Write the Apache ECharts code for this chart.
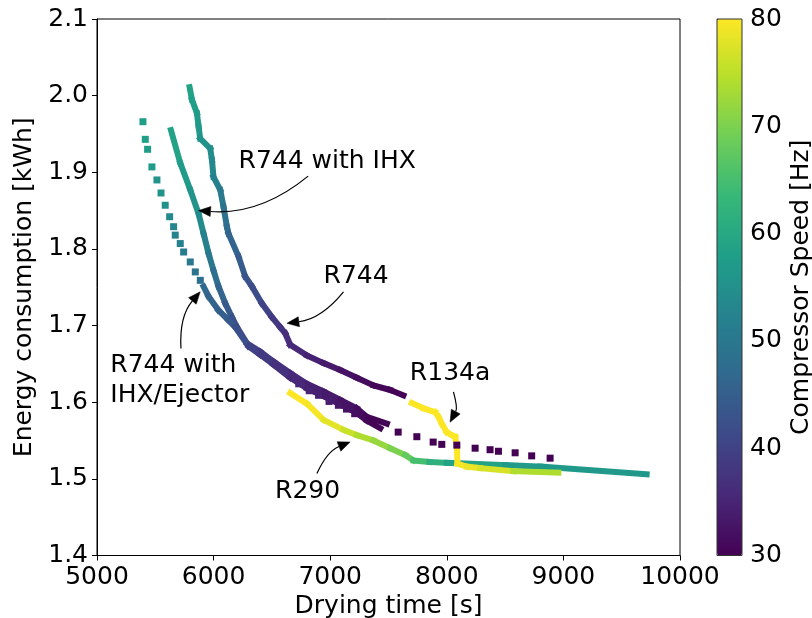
<!DOCTYPE html>
<html><head><meta charset="utf-8">
<script src="https://cdn.jsdelivr.net/npm/echarts@6/dist/echarts.min.js"></script>
<style>html,body{margin:0;padding:0;background:#fff}#c{width:812px;height:618px}</style>
</head><body><div id="c"></div>
<script>
// ---------------- data ----------------
const xTicks = [5000, 6000, 7000, 8000, 9000, 10000];
const yTicks = [1.4, 1.5, 1.6, 1.7, 1.8, 1.9, 2.0, 2.1];
const hzTicks = [30, 40, 50, 60, 70, 80];

// R744 (solid)
const r744X  = [5794,5814,5857,5871,5885,5971,5986,5999,6057,6085,6114,6128,6214,6271,6329,6414,6500,6571,6614,6657,6800,6943,7086,7228,7371,7514,7628];
const r744Y  = [2.011,1.995,1.977,1.960,1.944,1.931,1.916,1.894,1.877,1.855,1.829,1.820,1.790,1.764,1.751,1.729,1.711,1.698,1.690,1.675,1.661,1.651,1.642,1.632,1.622,1.616,1.609];
const r744Hz = [59,58.5,57.5,57,56,55,54,53,51,49.5,48,47,45,43.5,42.5,41,39,38,37,36,35,34,33,32,31,30.5,30];

// R744 with IHX (solid)
const ihxX  = [5634,5714,5800,5871,5914,5957,5999,6042,6100,6157,6200,6286,6400,6514,6657,6800,6943,7086,7228,7314,7486];
const ihxY  = [1.955,1.912,1.877,1.846,1.820,1.794,1.772,1.751,1.729,1.711,1.698,1.677,1.666,1.653,1.638,1.624,1.614,1.603,1.592,1.581,1.572];
const ihxHz = [59.5,58,56.5,55,53,51,49,47,45,43,42,40,39,38,36,35,34,33,32,31,30];

// R744 with IHX/Ejector: sparse upper points, dense middle part, sparse tail
const ejTopX  = [5394,5414,5434,5471,5514,5549,5585,5623,5657,5671,5714,5743,5800,5843,5886];
const ejTopY  = [1.966,1.943,1.930,1.907,1.890,1.873,1.857,1.842,1.829,1.818,1.807,1.796,1.783,1.770,1.759];
const ejTopHz = [58,58,57.5,57,56,55.5,55,54,53,52.5,52,51,50,49,48];
const ejMidX  = [5914,5957,6042,6128,6185,6300,6400,6514,6657,6800,6943,7086,7228,7314,7430];
const ejMidY  = [1.751,1.738,1.720,1.707,1.698,1.673,1.662,1.649,1.632,1.618,1.608,1.597,1.586,1.576,1.566];
const ejMidHz = [47,46.5,45.5,44.5,43.5,41,39,38,36,35,34,33,32,31,30];
const ejTailX  = [6730,6820,6900,6990,7070,7140,7210,7583,7743,7883,7957,8086,8243,8371,8443,8586,8728,8886];
const ejTailY  = [1.624,1.615,1.609,1.601,1.596,1.591,1.585,1.561,1.555,1.548,1.545,1.544,1.540,1.538,1.536,1.534,1.530,1.527];
const ejTailHz = [35.5,35,34.5,34,33,32.5,32,30,30,30,30,30,30,30,30,30,30,30];

// R290 (solid)
const r290X  = [6657,6800,6943,7114,7228,7371,7514,7643,7714,7850,8000,8500,8800,9714];
const r290Y  = [1.612,1.598,1.577,1.564,1.557,1.550,1.540,1.531,1.524,1.522,1.521,1.518,1.516,1.506];
const r290Hz = [80,80,79,77,75,73,71,69,67,63,60,57.5,57,56.5];

// R134a (solid)
const r134X  = [7700,7800,7900,7928,7957,8000,8043,8071,8086,8091,8171,8286,8571,8957];
const r134Y  = [1.599,1.592,1.587,1.581,1.572,1.561,1.557,1.555,1.544,1.520,1.516,1.514,1.510,1.508];
const r134Hz = [80,80,80,80,80,80,80,80,80,80,79,78,76,72];

// annotations: label, text anchor (data), arrow start (data), arrow tip (data)
const annLabels = ['R744 with IHX', 'R744', 'R744 with\nIHX/Ejector', 'R134a', 'R290'];
const annText   = [[6974,1.914],[7222,1.764],[5114,1.628],[8028,1.637],[6806,1.483]];
const annFrom   = [[6811,1.895],[7114,1.744],[5720,1.670],[8057,1.6136],[6886,1.507]];
const annTo     = [[5871,1.850],[6629,1.703],[5885,1.744],[8028,1.574],[7171,1.548]];
const annAlign  = ['center','center','left','center','center'];

// ---------------- chart ----------------
const FONT = 'DejaVu Sans';
const FS = 25;
const viridis = ['#440154','#482878','#3e4989','#31688e','#26828e','#1f9e89','#35b779','#6ece58','#b5de2b','#fde725'];

const chart = echarts.init(document.getElementById('c'), null, {renderer:'canvas', width:812, height:618});

function segs(xs, ys, hz) {
  const out = [];
  for (let i = 0; i < xs.length - 1; i++) out.push([xs[i], ys[i], (hz[i] + hz[i+1]) / 2, xs[i+1], ys[i+1]]);
  return out;
}
function pts(xs, ys, hz) { return xs.map((x, i) => [x, ys[i], hz[i]]); }

function lineSeries(name, xs, ys, hz) {
  return {
    type: 'custom', name, coordinateSystem: 'cartesian2d', xAxisIndex: 0, yAxisIndex: 0,
    dimensions: ['x','y','hz','x2','y2'], encode: {x: 0, y: 1},
    data: segs(xs, ys, hz), silent: true,
    renderItem: (params, api) => {
      const a = api.coord([api.value(0), api.value(1)]);
      const b = api.coord([api.value(3), api.value(4)]);
      return {type: 'line', shape: {x1: a[0], y1: a[1], x2: b[0], y2: b[1]},
              style: {stroke: api.visual('color'), lineWidth: 6, lineCap: 'square'}};
    }
  };
}
function dotSeries(name, xs, ys, hz) {
  return {type: 'scatter', name, xAxisIndex: 0, yAxisIndex: 0, data: pts(xs, ys, hz),
          symbol: 'rect', symbolSize: 7, silent: true, itemStyle: {opacity: 1}};
}

const series = [
  lineSeries('R290', r290X, r290Y, r290Hz),
  lineSeries('R744', r744X, r744Y, r744Hz),
  lineSeries('R744 with IHX', ihxX, ihxY, ihxHz),
  lineSeries('R744 with IHX/Ejector', ejMidX, ejMidY, ejMidHz),
  dotSeries('R744 with IHX/Ejector top', ejTopX, ejTopY, ejTopHz),
  dotSeries('R744 with IHX/Ejector tail', ejTailX, ejTailY, ejTailHz),
  lineSeries('R134a', r134X, r134Y, r134Hz)
];

const axisTxt = {fontFamily: FONT, fontSize: FS, color: '#000'};

chart.setOption({
  animation: false,
  backgroundColor: '#fff',
  grid: [
    {left: 97, top: 19, width: 583, height: 536.5, show: true, borderColor: '#000', borderWidth: 1,
     backgroundColor: 'transparent', containLabel: false, outerBoundsMode: 'none'},
    {left: 717, top: 19, width: 25, height: 536.5, show: true, borderColor: '#333', borderWidth: 1,
     backgroundColor: 'transparent', z: 10, containLabel: false, outerBoundsMode: 'none'}
  ],
  xAxis: [
    {type: 'value', gridIndex: 0, min: xTicks[0], max: xTicks[xTicks.length-1], interval: 1000,
     axisLine: {show: true, onZero: false, lineStyle: {color: '#000', width: 1}},
     axisTick: {show: true, length: 5, lineStyle: {color: '#000'}},
     axisLabel: Object.assign({margin: 9, formatter: v => String(v)}, axisTxt),
     splitLine: {show: false},
     name: 'Drying time [s]', nameLocation: 'middle', nameGap: 38, nameTextStyle: axisTxt},
    {type: 'value', gridIndex: 1, show: false, min: 0, max: 1}
  ],
  yAxis: [
    {type: 'value', gridIndex: 0, min: yTicks[0], max: yTicks[yTicks.length-1], interval: 0.1,
     axisLine: {show: true, onZero: false, lineStyle: {color: '#000', width: 1}},
     axisTick: {show: true, length: 5, lineStyle: {color: '#000'}},
     axisLabel: Object.assign({margin: 9, formatter: v => v.toFixed(1)}, axisTxt),
     splitLine: {show: false},
     name: 'Energy consumption [kWh]', nameLocation: 'middle', nameGap: 51, nameTextStyle: axisTxt},
    {type: 'value', gridIndex: 1, position: 'right', min: hzTicks[0], max: hzTicks[hzTicks.length-1], interval: 10,
     axisLine: {show: false},
     axisTick: {show: true, length: 5, lineStyle: {color: '#000'}},
     axisLabel: Object.assign({margin: 8}, axisTxt),
     splitLine: {show: false},
     name: 'Compressor Speed [Hz]', nameLocation: 'middle', nameGap: 47, nameTextStyle: axisTxt}
  ],
  visualMap: [{
    type: 'continuous', min: hzTicks[0], max: hzTicks[hzTicks.length-1], dimension: 2,
    seriesIndex: [0,1,2,3,4,5,6], inRange: {color: viridis},
    orient: 'vertical', left: 717, top: 19, itemWidth: 25, itemHeight: 536.5,
    calculable: false, padding: 0, hoverLink: false, text: null
  }],
  series
});

// ---------------- annotations ----------------
const px = p => chart.convertToPixel({xAxisIndex: 0, yAxisIndex: 0}, p);
const graphics = [];
const rad = 0.2;
for (let i = 0; i < annLabels.length; i++) {
  const t = px(annText[i]);
  graphics.push({type: 'text', x: t[0], y: t[1], z: 100,
    style: {text: annLabels[i], fontFamily: FONT, fontSize: FS, fill: '#000',
            align: annAlign[i], verticalAlign: 'middle', lineHeight: 30}});
  const a = px(annFrom[i]), b = px(annTo[i]);
  const dx = b[0] - a[0], dy = b[1] - a[1];
  const cx = (a[0] + b[0]) / 2 + rad * dy, cy = (a[1] + b[1]) / 2 - rad * dx;
  let ux = b[0] - cx, uy = b[1] - cy;
  const L = Math.hypot(ux, uy); ux /= L; uy /= L;
  const hl = 12, hw = 5;
  const bx = b[0] - ux * hl, by = b[1] - uy * hl;
  graphics.push({type: 'bezierCurve', z: 100,
    shape: {x1: a[0], y1: a[1], cpx1: cx, cpy1: cy, x2: bx, y2: by},
    style: {stroke: '#000', lineWidth: 1.2, fill: 'none'}});
  graphics.push({type: 'polygon', z: 100,
    shape: {points: [[b[0], b[1]], [bx - uy * hw, by + ux * hw], [bx + uy * hw, by - ux * hw]]},
    style: {fill: '#000', stroke: '#000', lineWidth: 0.5}});
}
chart.setOption({graphic: graphics});
</script>
</body></html>
